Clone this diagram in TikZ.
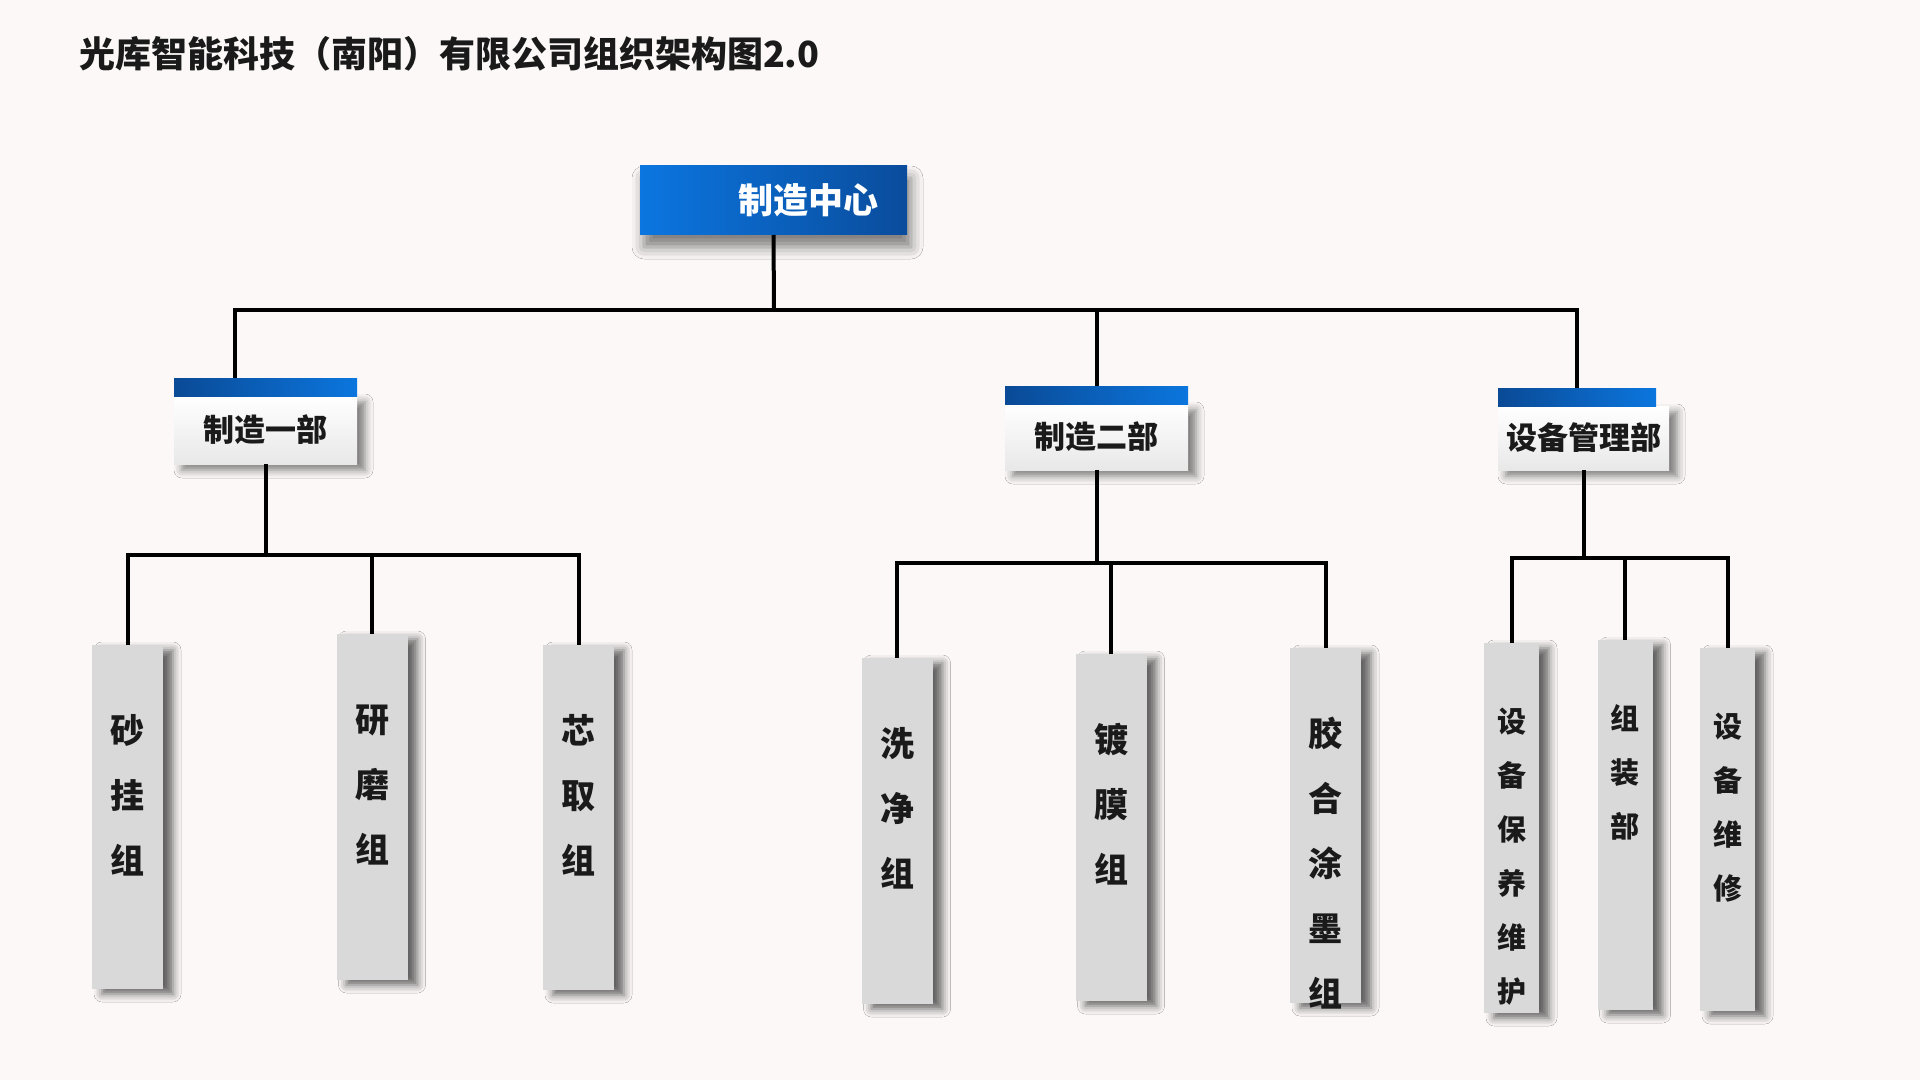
\documentclass[tikz,border=0pt]{standalone}
\usepackage{fontspec}
\setmainfont{Noto Sans CJK SC}
\usepackage{tikz}
\usetikzlibrary{shadows.blur}

\definecolor{pagebg}{HTML}{FCF8F8}
\definecolor{topL}{HTML}{0B76E0}
\definecolor{topR}{HTML}{0A4C9C}
\definecolor{barL}{HTML}{0A4A96}
\definecolor{barR}{HTML}{0B76DE}
\definecolor{leafgray}{HTML}{D9D9D9}
\definecolor{ink}{HTML}{1A1A1A}

\newcommand{\vtext}[1]{\parbox[t]{1.1em}{\centering #1}}

\begin{document}
\begin{tikzpicture}[x=0.5pt, y=-0.5pt,
        every node/.append style={inner sep=0pt, outer sep=0pt},
        link/.style={line width=2pt, black},
        headbox/.style={shade, left color=topL, right color=topR, minimum width=133.5pt, minimum height=34.5pt,
            text width=104.5pt, inner xsep=14.5pt, align=right, text=white,
            font=\bfseries\fontsize{17.5pt}{20pt}\selectfont,
            blur shadow={shadow xshift=2pt, shadow yshift=-6pt, shadow blur radius=6pt, shadow opacity=50}},
        deptbox/.style={shade, top color=white, bottom color=black!9, minimum height=32pt, text=ink,
            font=\bfseries\fontsize{15.5pt}{18pt}\selectfont,
            blur shadow={shadow xshift=4pt, shadow yshift=-3pt, shadow blur radius=4pt, shadow opacity=50}},
        deptbar/.style={shade, left color=barL, right color=barR, minimum height=9pt, anchor=south west},
        leaf/.style={fill=leafgray, minimum width=35.5pt, anchor=north, text height=49pt, text=ink,
            font=\bfseries\fontsize{17pt}{32.5pt}\selectfont,
            blur shadow={shadow xshift=5pt, shadow yshift=-2.5pt, shadow blur radius=4pt, shadow opacity=60}},
        smallleaf/.style={leaf, minimum width=27.5pt, text height=44.5pt,
            font=\bfseries\fontsize{14.5pt}{27pt}\selectfont}
    ]
        \fill[pagebg] (0,0) rectangle (1920,1080);
        \useasboundingbox (0,0) rectangle (1920,1080);

        \node[anchor=west, text=ink, font=\bfseries\fontsize{18pt}{22pt}\selectfont] (title) at (79,54)
            {光库智能科技（南阳）有限公司组织架构图2.0};

        \node[headbox] (0) at (773.5,200.5) {制造中心};

        \node[deptbox, minimum width=91.5pt, minimum height=34pt] (1) at (265.5,430) {制造一部};
        \node[deptbox, minimum width=91.5pt, minimum height=33pt] (2) at (1096.5,437) {制造二部};
        \node[deptbox, minimum width=85.5pt] (3) at (1583.5,438) {设备管理部};
        \node[deptbar, minimum width=91.5pt] (1b) at (1.north west) {};
        \node[deptbar, minimum width=91.5pt] (2b) at (2.north west) {};
        \node[deptbar, minimum width=79pt] (3b) at (3.north west) {};

        \node[leaf, text depth=123pt] (11) at (127.5,645) {\vtext{砂\\挂\\组}};
        \node[leaf, text depth=124pt] (12) at (372,634) {\vtext{研\\磨\\组}};
        \node[leaf, text depth=123.5pt] (13) at (578.5,645) {\vtext{芯\\取\\组}};
        \node[leaf, text depth=124pt] (21) at (897,658) {\vtext{洗\\净\\组}};
        \node[leaf, text depth=124.5pt] (22) at (1111,654) {\vtext{镀\\膜\\组}};
        \node[leaf, text depth=128.5pt] (23) at (1325.5,648) {\vtext{胶\\合\\涂\\墨\\组}};
        \node[smallleaf, text depth=140.5pt] (31) at (1511.5,643) {\vtext{设\\备\\保\\养\\维\\护}};
        \node[smallleaf, text depth=140.5pt] (32) at (1625,640) {\vtext{组\\装\\部}};
        \node[smallleaf, text depth=137pt] (33) at (1727.5,648) {\vtext{设\\备\\维\\修}};

        \coordinate (b0) at (774,310);
        \coordinate (b1) at (265.5,555);
        \coordinate (b2) at (1096.5,563);
        \coordinate (b3) at (1583.5,558);

        \draw[link] (0.south) -- (b0);
        \draw[link] (b0) -| ([xshift=-15.25pt]1b.north);
        \draw[link] (b0) -| (2b.north);
        \draw[link] (b0) -| (3b.north);

        \draw[link] (1.south) -- (b1);
        \draw[link] (b1) -| (11.north);
        \draw[link] (b1) -| (12.north);
        \draw[link] (b1) -| (13.north);

        \draw[link] (2.south) -- (b2);
        \draw[link] (b2) -| (21.north);
        \draw[link] (b2) -| (22.north);
        \draw[link] (b2) -| (23.north);

        \draw[link] (3.south) -- (b3);
        \draw[link] (b3) -| (31.north);
        \draw[link] (b3) -| (32.north);
        \draw[link] (b3) -| (33.north);
    \end{tikzpicture}
\end{document}
